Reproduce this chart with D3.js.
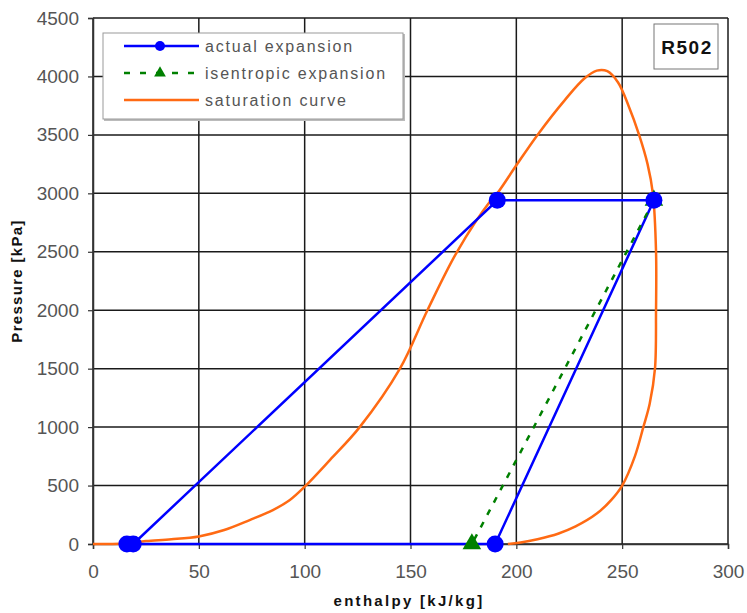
<!DOCTYPE html>
<html>
<head>
<meta charset="utf-8">
<script src="https://cdn.jsdelivr.net/npm/d3@7"></script>
<style>
  body { margin: 0; background: #fff; }
  text { font-family: "Liberation Sans", Arial, sans-serif; }
</style>
</head>
<body>
<div id="chart"></div>
<script>
// axis ticks
var hTicks = [0, 50, 100, 150, 200, 250, 300];
var pTicks = [0, 500, 1000, 1500, 2000, 2500, 3000, 3500, 4000, 4500];

// actual expansion (enthalpy kJ/kg, pressure kPa)
var actualH = [19, 191, 265, 190, 16];
var actualP = [0, 2940, 2940, 0, 0];

// isentropic expansion
var isenH = [265, 179];
var isenP = [2940, 0];

// saturation curve, liquid side then vapour side
var satH = [0, 15, 25, 37, 50, 62, 74, 85, 93, 100, 112, 126, 145, 158, 172, 188, 191, 200, 210, 223, 232, 238, 243, 248, 253, 258, 262, 264.5, 266, 266, 265.5, 263, 260, 256, 250, 245, 238, 228, 220, 210, 202, 196];
var satP = [0, 5, 25, 40, 65, 120, 205, 290, 376, 490, 720, 1000, 1500, 2000, 2500, 2940, 3000, 3240, 3500, 3800, 3980, 4050, 4045, 3950, 3750, 3500, 3250, 3000, 2500, 2000, 1500, 1200, 1000, 750, 500, 380, 260, 150, 90, 40, 12, 0];

var legendItems = ["actual expansion", "isentropic expansion", "saturation curve"];
var seriesLabel = "R502";

var width = 747, height = 613;

var svg = d3.select("#chart").append("svg")
    .attr("width", width)
    .attr("height", height);

// set the ranges
var x = d3.scaleLinear().domain([0, 300]).range([93, 728]);
var y = d3.scaleLinear().domain([0, 4500]).range([544, 18]);

// grid
var grid = svg.append("g");
grid.selectAll(".vgrid")
    .data(hTicks)
  .enter().append("line")
    .attr("x1", function(d) { return x(d); })
    .attr("x2", function(d) { return x(d); })
    .attr("y1", y(0)).attr("y2", y(4500))
    .attr("stroke", "#1a1a1a")
    .attr("stroke-width", 1.5);
grid.selectAll(".hgrid")
    .data(pTicks)
  .enter().append("line")
    .attr("y1", function(d) { return y(d); })
    .attr("y2", function(d) { return y(d); })
    .attr("x1", x(0)).attr("x2", x(300))
    .attr("stroke", "#1a1a1a")
    .attr("stroke-width", 1.5);

// axes
var fmt = d3.format("d");
var xAxis = svg.append("g")
    .attr("transform", "translate(0," + y(0) + ")")
    .call(d3.axisBottom(x).tickValues(hTicks).tickFormat(fmt).tickSize(5).tickPadding(16));
var yAxis = svg.append("g")
    .attr("transform", "translate(" + x(0) + ",0)")
    .call(d3.axisLeft(y).tickValues(pTicks).tickFormat(fmt).tickSize(5).tickPadding(9));

[xAxis, yAxis].forEach(function(a) {
  a.select(".domain").attr("stroke", "#333").attr("stroke-width", 1.5);
  a.selectAll(".tick line").attr("stroke", "#333").attr("stroke-width", 1.2);
  a.selectAll(".tick text")
      .attr("fill", "#555")
      .style("font-size", "19px")
      .style("font-family", "'Liberation Sans Narrow', 'Arial Narrow', 'Liberation Sans', sans-serif");
});

// axis titles
svg.append("text")
    .attr("x", 409).attr("y", 606)
    .attr("text-anchor", "middle")
    .style("font-size", "15px")
    .style("font-weight", "bold")
    .style("letter-spacing", "2.3px")
    .attr("fill", "#111")
    .text("enthalpy [kJ/kg]");

svg.append("text")
    .attr("transform", "translate(22,281) rotate(-90)")
    .attr("text-anchor", "middle")
    .style("font-size", "15px")
    .style("font-weight", "bold")
    .style("letter-spacing", "1.3px")
    .attr("fill", "#111")
    .text("Pressure [kPa]");

var plot = svg.append("g");

// saturation curve
var satData = satH.map(function(h, i) { return [h, satP[i]]; });
var line = d3.line()
    .x(function(d) { return x(d[0]); })
    .y(function(d) { return y(d[1]); })
    .curve(d3.curveCatmullRom.alpha(0.5));

plot.append("path")
    .datum(satData)
    .attr("d", line)
    .attr("fill", "none")
    .attr("stroke", "#ff6a13")
    .attr("stroke-width", 2.5);

// actual expansion
var actData = actualH.map(function(h, i) { return [h, actualP[i]]; });
var straight = d3.line()
    .x(function(d) { return x(d[0]); })
    .y(function(d) { return y(d[1]); });

plot.append("path")
    .datum(actData)
    .attr("d", straight)
    .attr("fill", "none")
    .attr("stroke", "#0000ff")
    .attr("stroke-width", 2.5);

// isentropic expansion
var isenData = isenH.map(function(h, i) { return [h, isenP[i]]; });
plot.append("path")
    .datum(isenData)
    .attr("d", straight)
    .attr("fill", "none")
    .attr("stroke", "#008000")
    .attr("stroke-width", 2.5)
    .attr("stroke-dasharray", "6,8");

plot.selectAll(".tri")
    .data(isenData)
  .enter().append("path")
    .attr("transform", function(d) { return "translate(" + x(d[0]) + "," + y(d[1]) + ")"; })
    .attr("d", d3.symbol().type(d3.symbolTriangle).size(150))
    .attr("fill", "#008000");

plot.selectAll(".dot")
    .data(actData)
  .enter().append("circle")
    .attr("cx", function(d) { return x(d[0]); })
    .attr("cy", function(d) { return y(d[1]); })
    .attr("r", 8.5)
    .attr("fill", "#0000ff");

// legend
var lg = svg.append("g");
lg.append("rect")
    .attr("x", 104).attr("y", 34).attr("width", 301).attr("height", 87)
    .attr("fill", "#bbb");
lg.append("rect")
    .attr("x", 103).attr("y", 33).attr("width", 300).attr("height", 86)
    .attr("fill", "#fff").attr("stroke", "#999").attr("stroke-width", 1);

var rowY = [46, 73, 100];
lg.append("line").attr("x1", 124).attr("x2", 199).attr("y1", rowY[0]).attr("y2", rowY[0])
    .attr("stroke", "#0000ff").attr("stroke-width", 2.5);
lg.append("circle").attr("cx", 160).attr("cy", rowY[0]).attr("r", 5).attr("fill", "#0000ff");
lg.append("line").attr("x1", 124).attr("x2", 199).attr("y1", rowY[1]).attr("y2", rowY[1])
    .attr("stroke", "#008000").attr("stroke-width", 2.5).attr("stroke-dasharray", "6,10");
lg.append("path").attr("transform", "translate(160," + rowY[1] + ")")
    .attr("d", d3.symbol().type(d3.symbolTriangle).size(60)).attr("fill", "#008000");
lg.append("line").attr("x1", 124).attr("x2", 199).attr("y1", rowY[2]).attr("y2", rowY[2])
    .attr("stroke", "#ff6a13").attr("stroke-width", 2.5);

lg.selectAll(".ltxt")
    .data(legendItems)
  .enter().append("text")
    .attr("x", 205)
    .attr("y", function(d, i) { return rowY[i] + 6; })
    .attr("fill", "#555")
    .style("font-size", "16px")
    .style("letter-spacing", "1.8px")
    .text(function(d) { return d; });

// series label box
svg.append("rect")
    .attr("x", 654).attr("y", 24).attr("width", 64).attr("height", 45)
    .attr("fill", "#fff").attr("stroke", "#777").attr("stroke-width", 1);
svg.append("text")
    .attr("x", 687).attr("y", 54)
    .attr("text-anchor", "middle")
    .style("font-size", "19px")
    .style("font-weight", "bold")
    .style("letter-spacing", "1.5px")
    .attr("fill", "#111")
    .text(seriesLabel);
</script>
</body>
</html>
